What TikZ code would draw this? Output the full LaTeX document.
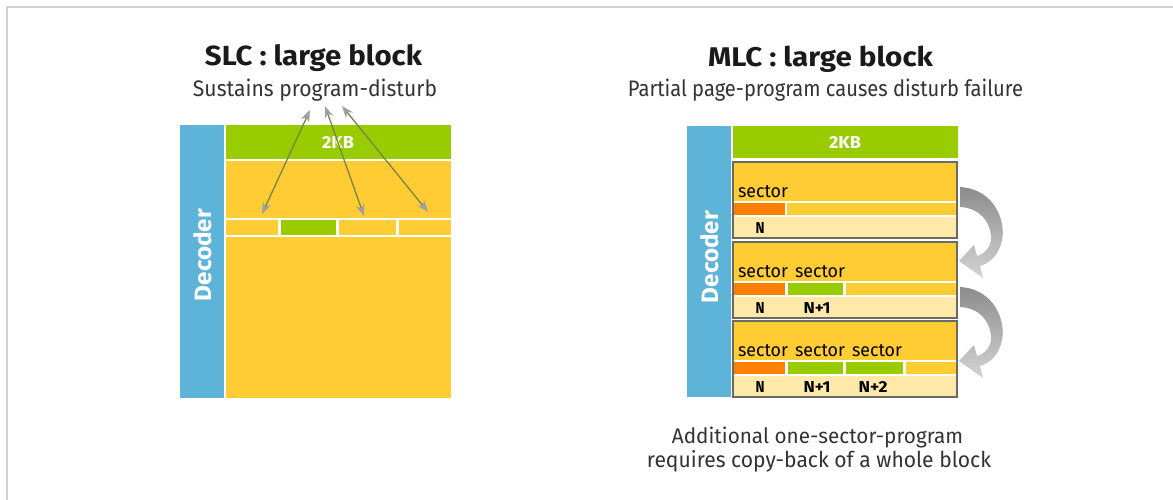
\documentclass[tikz,border=0pt]{standalone}
\usepackage{fontspec}
\setmainfont{Fira Sans}
\usetikzlibrary{arrows.meta}
\definecolor{decblue}{HTML}{5EB4D8}
\definecolor{kbgreen}{HTML}{99CC00}
\definecolor{blkyellow}{HTML}{FFCD33}
\definecolor{lightyel}{HTML}{FFE9A8}
\definecolor{secorange}{HTML}{FF8000}
\definecolor{framegray}{HTML}{D2D2D2}
\definecolor{blockgray}{HTML}{6A6A6A}
\definecolor{arrline}{HTML}{7A8446}
\definecolor{arrhead}{HTML}{A0A0A0}
\definecolor{txtdark}{HTML}{1A1A1A}
\definecolor{txtsub}{HTML}{333333}
\newcommand{\fitbox}[3]{\resizebox{#1pt}{#2pt}{#3}}
\tikzset{
  lbl/.style={inner sep=0pt, outer sep=0pt},
  title/.style={lbl, anchor=base, text=txtdark},
  sub/.style={lbl, anchor=base, text=txtsub},
  dec/.style={lbl, rotate=90, text=white},
  kb/.style={lbl, text=white},
  sec/.style={lbl, anchor=base west, text=black},
  num/.style={lbl, anchor=base, text=black},
  disturb/.style={arrline, line width=1.3pt, {Stealth[length=12pt,width=9pt,color=arrhead,fill=arrhead]}-{Stealth[length=12pt,width=9pt,color=arrhead,fill=arrhead]}},
  copyarrow/.style={top color=black!45, bottom color=black!17, draw=none},
  blockframe/.style={draw=blockgray, line width=1.5pt}
}
\begin{document}
\begin{tikzpicture}[x=1pt,y=-1pt]
\fill[white] (0,0) rectangle (1173,500);
\useasboundingbox (0,0) rectangle (1173,500);
\draw[framegray, line width=2pt] (7,500) -- (7,7) -- (1173,7);

% ---------------- SLC ----------------
\node[title] (slct) at (313.5,66) {\fitbox{217}{21}{\bfseries SLC : large block}};
\node[sub] (slcs) at (315,97) {\fitbox{244}{17.5}{Sustains program-disturb}};

\fill[decblue] (180,125) rectangle (224,398);
\node[dec] (slcdec) at (203,255) {\fitbox{92}{18}{\bfseries Decoder}};
\fill[kbgreen] (226,125) rectangle (451,159);
\node[kb] (slckb) at (338,143) {\fitbox{32}{12}{\bfseries 2KB}};
\fill[blkyellow] (226,161) rectangle (451,218);
\fill[blkyellow] (226,220) rectangle (278,235);
\fill[kbgreen] (281,220) rectangle (336,235);
\fill[blkyellow] (339,220) rectangle (396,235);
\fill[blkyellow] (399,220) rectangle (451,235);
\fill[blkyellow] (226,237) rectangle (451,398);

\coordinate (a1s) at (310,110);
\coordinate (a1e) at (262,214);
\coordinate (a2s) at (325,106);
\coordinate (a2e) at (364,216);
\coordinate (a3s) at (342,106);
\coordinate (a3e) at (428,212);
\draw[disturb] (a1s) -- (a1e);
\draw[disturb] (a2s) -- (a2e);
\draw[disturb] (a3s) -- (a3e);

% ---------------- MLC ----------------
\node[title] (mlct) at (820.5,67) {\fitbox{225}{20.5}{\bfseries MLC : large block}};
\node[sub] (mlcs) at (825.5,97) {\fitbox{395}{17.5}{Partial page-program causes disturb failure}};

\fill[decblue] (687,126) rectangle (731,397);
\node[dec] (mlcdec) at (710,257) {\fitbox{92}{18}{\bfseries Decoder}};
\fill[kbgreen] (733,126) rectangle (958,158);
\node[kb] (mlckb) at (845,143) {\fitbox{32}{12}{\bfseries 2KB}};

% block 1
\fill[blkyellow] (733,162) rectangle (957,201);
\fill[secorange] (733,203) rectangle (785,215);
\fill[blkyellow] (787,203) rectangle (957,215);
\fill[lightyel] (733,217) rectangle (957,238);
\draw[blockframe] (733,162) rectangle (957,238);
\node[sec] (s11) at (738,197) {\fitbox{50}{12}{sector}};
\node[num] (n11) at (760,233) {\fitbox{9}{11}{\bfseries N}};

% block 2
\fill[blkyellow] (733,242) rectangle (957,281);
\fill[secorange] (733,283) rectangle (785,295);
\fill[kbgreen] (788,283) rectangle (843,295);
\fill[blkyellow] (846,283) rectangle (957,295);
\fill[lightyel] (733,297) rectangle (957,318);
\draw[blockframe] (733,242) rectangle (957,318);
\node[sec] (s21) at (738,277) {\fitbox{50}{12}{sector}};
\node[sec] (s22) at (795,277) {\fitbox{50}{12}{sector}};
\node[num] (n21) at (760,313) {\fitbox{9}{11}{\bfseries N}};
\node[num] (n22) at (817,313) {\fitbox{27}{11}{\bfseries N+1}};

% block 3
\fill[blkyellow] (733,321) rectangle (957,360);
\fill[secorange] (733,362) rectangle (785,374);
\fill[kbgreen] (788,362) rectangle (843,374);
\fill[kbgreen] (846,362) rectangle (903,374);
\fill[blkyellow] (906,362) rectangle (957,374);
\fill[lightyel] (733,376) rectangle (957,397);
\draw[blockframe] (733,321) rectangle (957,397);
\node[sec] (s31) at (738,356) {\fitbox{50}{12}{sector}};
\node[sec] (s32) at (795,356) {\fitbox{50}{12}{sector}};
\node[sec] (s33) at (852,356) {\fitbox{50}{12}{sector}};
\node[num] (n31) at (760,392) {\fitbox{9}{11}{\bfseries N}};
\node[num] (n32) at (817,392) {\fitbox{27}{11}{\bfseries N+1}};
\node[num] (n33) at (873,392) {\fitbox{29}{11}{\bfseries N+2}};

% curved copy-back arrows
\foreach \dy in {0,100} {
  \shade[copyarrow] (960,187+\dy) .. controls (995,189+\dy) and (1006,222+\dy) .. (1002,240+\dy)
     .. controls (999,255+\dy) and (990,263+\dy) .. (980,266+\dy)
     -- (983,278+\dy) -- (959,261+\dy) -- (974,245+\dy) -- (977,256+\dy)
     .. controls (985,254+\dy) and (992,246+\dy) .. (991,236+\dy)
     .. controls (990,222+\dy) and (980,208+\dy) .. (960,207+\dy) -- cycle;
}

\node[sub] (note1) at (817.5,443) {\fitbox{291}{16.5}{Additional one-sector-program}};
\node[sub] (note2) at (819,467) {\fitbox{344}{17}{requires copy-back of a whole block}};
\end{tikzpicture}
\end{document}
